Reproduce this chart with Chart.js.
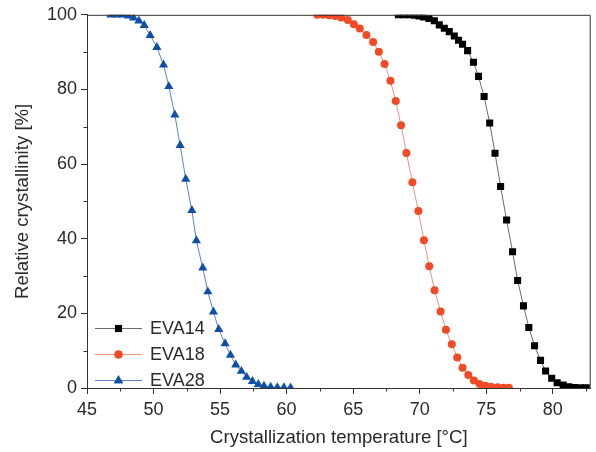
<!DOCTYPE html>
<html>
<head>
<meta charset="utf-8">
<script src="https://cdn.jsdelivr.net/npm/chart.js@4.4.1/dist/chart.umd.min.js"></script>
<style>
  html, body { margin: 0; padding: 0; background: #ffffff; }
  #wrap { width: 596px; height: 452px; position: relative; }
</style>
</head>
<body>
<div id="wrap"><canvas id="c" width="596" height="452"></canvas></div>
<script>
// ---- Data ----
const seriesNames = ['EVA14', 'EVA18', 'EVA28'];

const eva14T = [68.4, 68.8, 69.2, 69.6, 69.95, 70.3, 70.7, 71.1, 71.47, 71.85, 72.22, 72.6, 72.92, 73.22, 73.6, 74.04, 74.42, 74.84, 75.26, 75.66, 76.08, 76.53, 76.98, 77.36, 77.8, 78.2, 78.63, 79.08, 79.46, 79.92, 80.33, 80.78, 81.2, 81.62, 82.07, 82.52];
const eva14Y = [100, 100, 100, 99.9, 99.7, 99.4, 99.0, 98.4, 97.3, 96.4, 95.5, 94.3, 93.2, 92.1, 90.4, 87.3, 83.5, 78.1, 71.0, 62.9, 54.0, 45.0, 36.5, 28.8, 22.0, 16.2, 11.3, 7.4, 4.55, 2.6, 1.4, 0.8, 0.35, 0.15, 0.08, 0.05];

const eva18T = [62.3, 62.75, 63.2, 63.65, 64.1, 64.6, 65.05, 65.5, 66.0, 66.5, 66.93, 67.36, 67.8, 68.2, 68.6, 69.0, 69.45, 69.9, 70.32, 70.72, 71.12, 71.57, 71.97, 72.41, 72.82, 73.22, 73.65, 74.07, 74.5, 74.92, 75.35, 75.85, 76.3, 76.7];
const eva18Y = [100, 100, 99.9, 99.7, 99.3, 98.6, 97.5, 96.3, 94.6, 92.7, 90.1, 86.8, 82.3, 76.9, 70.4, 63.0, 55.1, 47.4, 39.6, 32.6, 26.2, 20.5, 15.6, 11.7, 8.2, 5.45, 3.5, 2.0, 1.1, 0.6, 0.35, 0.2, 0.1, 0.05];

const eva28T = [46.8, 47.25, 47.7, 48.1, 48.5, 48.9, 49.3, 49.75, 50.25, 50.75, 51.15, 51.6, 52.0, 52.42, 52.88, 53.22, 53.7, 54.08, 54.5, 54.9, 55.38, 55.78, 56.18, 56.6, 57.0, 57.43, 57.87, 58.3, 58.8, 59.3, 59.8, 60.3];
const eva28Y = [100, 100, 100, 99.7, 99.2, 98.4, 97.2, 94.5, 91.3, 86.6, 80.8, 73.2, 65.0, 56.0, 47.6, 39.5, 32.2, 25.8, 20.4, 15.7, 11.9, 8.8, 6.2, 4.5, 2.9, 1.8, 1.0, 0.5, 0.25, 0.15, 0.1, 0.05];

const xMajorTicks = [45, 50, 55, 60, 65, 70, 75, 80];
const xMinorTicks = [47.5, 52.5, 57.5, 62.5, 67.5, 72.5, 77.5, 82.5];
const yMajorTicks = [0, 20, 40, 60, 80, 100];
const yMinorTicks = [10, 30, 50, 70, 90];

const xTitle = 'Crystallization temperature [°C]';
const yTitle = 'Relative crystallinity [%]';

// ---- Helpers ----
const zip = (xs, ys) => xs.map((x, i) => ({ x: x, y: ys[i] }));
const AXIS = '#333333';
const TEXT = '#2a2a2a';
const FONT = "'Liberation Sans', Arimo, Arial, sans-serif";

const styles = [
  { marker: '#000000', line: '#6a6a6a', shape: 'rect', r: 5 },
  { marker: '#f24a24', line: '#f39079', shape: 'circle', r: 4 },
  { marker: '#0f4fa6', line: '#5a82cc', shape: 'triangle', r: 5.3 }
];
const seriesData = [zip(eva14T, eva14Y), zip(eva18T, eva18Y), zip(eva28T, eva28Y)];

const datasets = seriesNames.map((name, i) => ({
  label: name,
  data: seriesData[i],
  borderColor: styles[i].line,
  borderWidth: 1,
  backgroundColor: styles[i].marker,
  pointStyle: styles[i].shape,
  pointRadius: styles[i].r,
  pointHoverRadius: styles[i].r,
  pointBackgroundColor: styles[i].marker,
  pointBorderColor: styles[i].marker,
  pointBorderWidth: 0,
  tension: 0,
  fill: false,
  clip: 0
}));

// Box (top/right border), minor ticks and inner legend
const extras = {
  id: 'extras',
  afterDraw(chart) {
    const ctx = chart.ctx;
    const a = chart.chartArea;
    const xs = chart.scales.x, ys = chart.scales.y;
    ctx.save();
    ctx.strokeStyle = AXIS;
    ctx.lineWidth = 1;
    // top & right border
    ctx.beginPath();
    ctx.moveTo(a.left, a.top + 0.5);
    ctx.lineTo(a.right - 0.5, a.top + 0.5);
    ctx.lineTo(a.right - 0.5, a.bottom);
    ctx.stroke();
    // minor ticks
    ctx.beginPath();
    xMinorTicks.forEach(v => {
      const px = Math.round(xs.getPixelForValue(v)) + 0.5;
      ctx.moveTo(px, a.bottom);
      ctx.lineTo(px, a.bottom + 3.5);
    });
    yMinorTicks.forEach(v => {
      const py = Math.round(ys.getPixelForValue(v)) + 0.5;
      ctx.moveTo(a.left, py);
      ctx.lineTo(a.left - 3.5, py);
    });
    ctx.stroke();
    // legend
    ctx.font = '18px ' + FONT;
    ctx.textBaseline = 'middle';
    ctx.textAlign = 'left';
    chart.data.datasets.forEach((ds, i) => {
      const y = a.bottom - 60 + i * 26;
      const x0 = a.left + 8, x1 = a.left + 55;
      ctx.strokeStyle = ds.borderColor;
      ctx.lineWidth = 1;
      ctx.beginPath();
      ctx.moveTo(x0, y + 0.5);
      ctx.lineTo(x1, y + 0.5);
      ctx.stroke();
      ctx.fillStyle = ds.pointBackgroundColor;
      ctx.beginPath();
      Chart.helpers.drawPoint(ctx, {
        pointStyle: ds.pointStyle, radius: ds.pointRadius, rotation: 0, borderWidth: 0
      }, (x0 + x1) / 2, y + 0.5);
      ctx.fill();
      ctx.fillStyle = TEXT;
      ctx.fillText(ds.label, a.left + 63, y + 1);
    });
    ctx.restore();
  }
};

new Chart(document.getElementById('c'), {
  type: 'line',
  data: { datasets: datasets },
  options: {
    responsive: false,
    animation: false,
    devicePixelRatio: 1,
    layout: { padding: { top: 12, right: 2, left: 0, bottom: 0 } },
    plugins: { legend: { display: false }, tooltip: { enabled: false } },
    scales: {
      x: {
        type: 'linear',
        position: 'bottom',
        min: 45,
        max: 82.85,
        afterBuildTicks: s => { s.ticks = xMajorTicks.map(v => ({ value: v })); },
        afterFit: s => { s.height = 64; },
        grid: { drawOnChartArea: false, drawTicks: true, tickLength: 6, tickColor: AXIS, tickWidth: 1 },
        border: { display: true, color: AXIS, width: 1 },
        ticks: { color: TEXT, font: { family: FONT, size: 18 }, padding: 5, maxRotation: 0, autoSkip: false },
        title: { display: true, text: xTitle, color: TEXT, font: { family: FONT, size: 18.6 }, padding: { top: 0, bottom: 3 } }
      },
      y: {
        type: 'linear',
        min: 0,
        max: 100,
        afterBuildTicks: s => { s.ticks = yMajorTicks.map(v => ({ value: v })); },
        afterFit: s => { s.width = 87; },
        grid: { drawOnChartArea: false, drawTicks: true, tickLength: 6, tickColor: AXIS, tickWidth: 1 },
        border: { display: true, color: AXIS, width: 1 },
        ticks: { color: TEXT, font: { family: FONT, size: 18 }, padding: 4, autoSkip: false },
        title: { display: true, text: yTitle, color: TEXT, font: { family: FONT, size: 18.6 }, padding: { top: 12, bottom: 0 } }
      }
    }
  },
  plugins: [extras]
});
</script>
</body>
</html>
